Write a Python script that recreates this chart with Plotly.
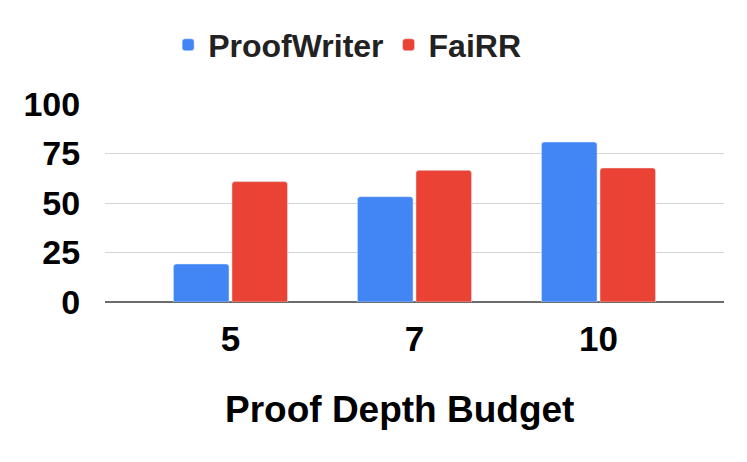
import plotly.graph_objects as go

depths = ["5", "7", "10"]
proofwriter = [19.2, 53.2, 80.8]
fairr = [60.8, 66.5, 67.7]
y_ticks = [0, 25, 50, 75, 100]

font_family = "Liberation Sans, Arial, sans-serif"

fig = go.Figure()
fig.add_trace(go.Bar(x=depths, y=proofwriter, name="ProofWriter",
                     marker=dict(color="#4285F4", cornerradius=3)))
fig.add_trace(go.Bar(x=depths, y=fairr, name="FaiRR",
                     marker=dict(color="#EA4335", cornerradius=3)))

fig.update_layout(
    width=747, height=462,
    margin=dict(l=97, r=31, t=96, b=168),
    plot_bgcolor="white", paper_bgcolor="white",
    barmode="group", bargap=0.364, bargroupgap=0.05,
    font=dict(family=font_family, color="#000000", weight="bold"),
    showlegend=True,
    legend=dict(orientation="h", xref="container", x=0.454, xanchor="center",
                yref="container", y=0.92, yanchor="middle",
                font=dict(size=32, color="#222222", weight="bold"),
                itemwidth=30, traceorder="normal"),
)
# axis title sits a bit left of the plot centre in the original, so use an annotation
fig.add_annotation(text="Proof Depth Budget", xref="paper", yref="paper",
                   x=0.476, y=-0.545, xanchor="center", yanchor="middle",
                   showarrow=False, font=dict(size=37, weight="bold", color="#000000"))
fig.update_xaxes(
    range=[-0.682, 2.682],
    automargin=False,
    tickfont=dict(size=35, weight="bold"),
    ticks="outside", ticklen=6, tickcolor="rgba(0,0,0,0)",
    showline=False, showgrid=False,
)
fig.update_yaxes(
    range=[0, 100],
    automargin=False,
    tickvals=y_ticks,
    tickfont=dict(size=34, weight="bold"),
    ticks="outside", ticklen=17, tickcolor="rgba(0,0,0,0)",
    showgrid=True, gridcolor="#d6d6d6", gridwidth=1,
    zeroline=True, zerolinecolor="#6b6b6b", zerolinewidth=2,
    showline=False,
)

fig.write_html("out.html")
